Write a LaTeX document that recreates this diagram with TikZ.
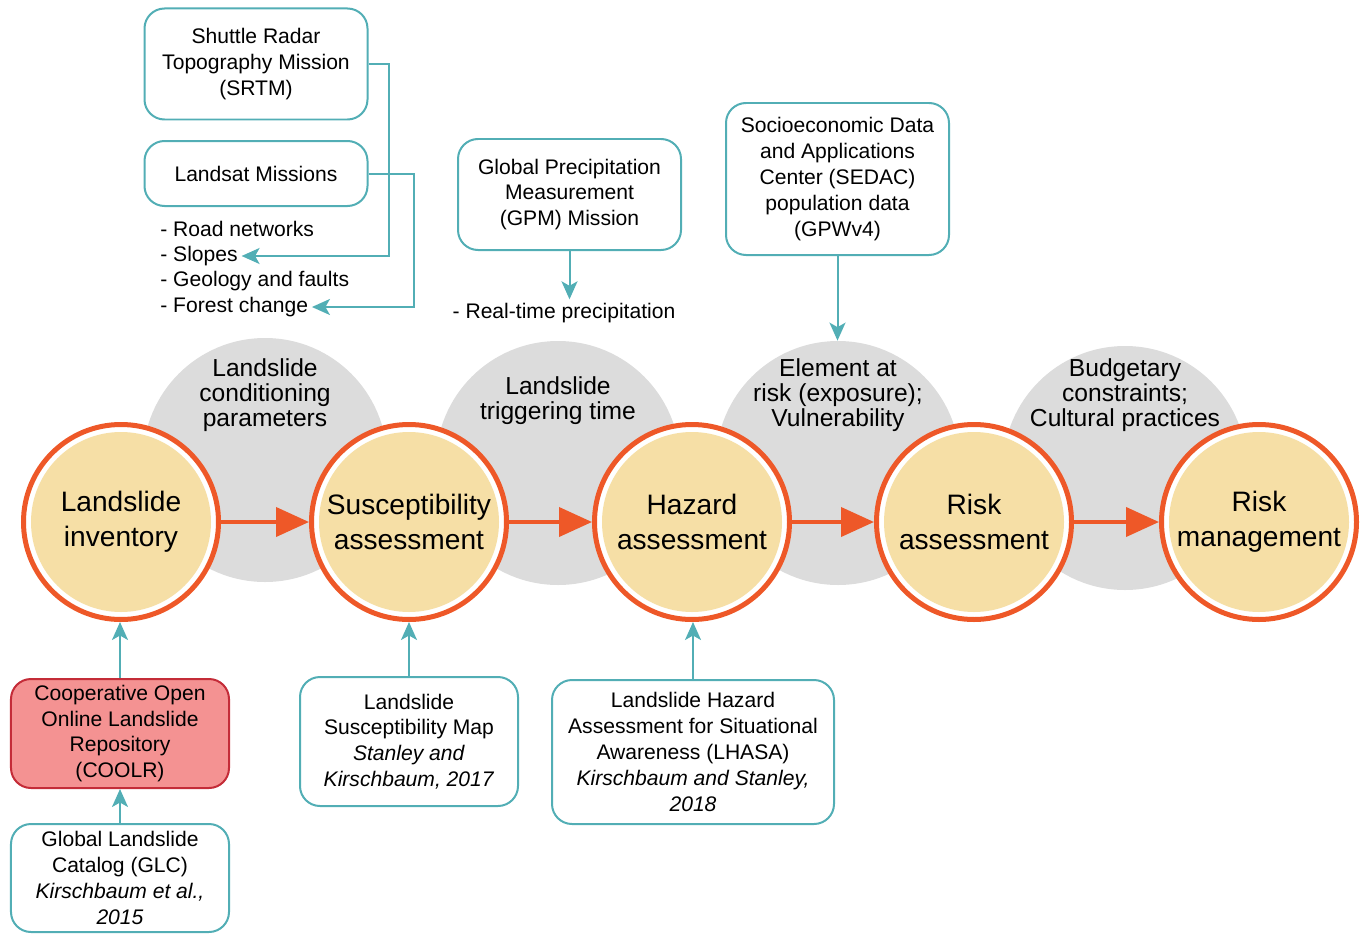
\documentclass[tikz,border=0pt]{standalone}
\usepackage{fontspec}
\setmainfont{Liberation Sans}
\usetikzlibrary{arrows.meta}
\definecolor{lsteal}{RGB}{82,174,181}
\definecolor{lsorange}{RGB}{238,88,40}
\definecolor{lsbeige}{RGB}{246,223,166}
\definecolor{lsgray}{RGB}{220,220,220}
\definecolor{lsred}{RGB}{244,146,146}
\definecolor{lsdarkred}{RGB}{196,44,56}
\begin{document}
\begin{tikzpicture}[
  box/.style={draw=lsteal, line width=0.04cm, rounded corners=0.4cm, align=center, minimum width=4.46cm, font=\fontsize{12}{14.7}\selectfont},
  item/.style={inner sep=2pt, anchor=west, font=\fontsize{12}{14.7}\selectfont},
  stage/.style={circle, minimum size=3.9cm, draw=lsorange, line width=0.1cm, fill=white, align=center, font=\fontsize{16}{19.8}\selectfont,
    path picture={\fill[lsbeige] (path picture bounding box.center) circle (1.8cm);}},
  factor/.style={circle, minimum size=4.88cm, fill=lsgray, inner sep=0pt},
  factortext/.style={align=center, font=\fontsize{14}{14.2}\selectfont},
  tarrow/.style={draw=lsteal, line width=0.04cm, -{Stealth[length=0.36cm,width=0.32cm,inset=0.09cm]}},
  oarrow/.style={draw=lsorange, line width=0.08cm, -{Triangle[length=0.66cm,width=0.58cm]}}
]
\useasboundingbox (0,0) rectangle (27.28,-18.68);

% grey factor discs
\node[factor] (g1) at (5.3,-9.2) {};
\node[factor] (g2) at (11.16,-9.26) {};
\node[factor] (g3) at (16.76,-9.26) {};
\node[factor] (g4) at (22.5,-9.36) {};
\node[factortext] (f1) at (5.3,-7.9) {Landslide\\conditioning\\parameters};
\node[factortext] (f2) at (11.16,-8.02) {Landslide\\triggering time};
\node[factortext] (f3) at (16.76,-7.9) {Element at\\risk (exposure);\\Vulnerability};
\node[factortext] (f4) at (22.5,-7.9) {Budgetary\\constraints;\\Cultural practices};

% stages
\node[stage] (s1) at (2.42,-10.44) {Landslide\\inventory};
\node[stage] (s2) at (8.18,-10.44) {Susceptibility\\assessment};
\node[stage] (s3) at (13.84,-10.44) {Hazard\\assessment};
\node[stage] (s4) at (19.48,-10.44) {Risk\\assessment};
\node[stage] (s5) at (25.18,-10.44) {Risk\\management};
\draw[oarrow] (s1.east) -- (s2.west);
\draw[oarrow] (s2.east) -- (s3.west);
\draw[oarrow] (s3.east) -- (s4.west);
\draw[oarrow] (s4.east) -- (s5.west);

% data sources on top
\node[box, minimum height=2.22cm] (srtm) at (5.12,-1.28) {Shuttle Radar\\Topography Mission\\(SRTM)};
\node[box, minimum height=1.3cm] (landsat) at (5.12,-3.47) {Landsat Missions};
\node[item] (road) at (3.13,-4.58) {- Road networks};
\node[item] (slopes) at (3.13,-5.12) {- Slopes};
\node[item] (geology) at (3.13,-5.62) {- Geology and faults};
\node[item] (forest) at (3.13,-6.14) {- Forest change};
\draw[tarrow] (srtm.east) -- ++(0.4,0) |- (slopes.east);
\draw[tarrow] (landsat.east) -- ++(0.9,0) |- (forest.east);

\node[box, minimum height=2.22cm] (gpm) at (11.39,-3.89) {Global Precipitation\\Measurement\\(GPM) Mission};
\node[item, anchor=center] (rtp) at (11.28,-6.26) {- Real-time precipitation};
\draw[tarrow] (gpm.south) -- (gpm.south |- rtp.north);

\node[box, minimum height=3.04cm] (sedac) at (16.75,-3.58) {Socioeconomic Data\\and Applications\\Center (SEDAC)\\population data\\(GPWv4)};
\draw[tarrow] (sedac.south) -- (sedac.south |- g3.north);

% products below
\node[box, draw=lsdarkred, fill=lsred, minimum width=4.36cm, minimum height=2.18cm] (coolr) at (2.4,-14.67) {Cooperative Open\\Online Landslide\\Repository\\(COOLR)};
\node[box, minimum width=4.36cm, minimum height=2.16cm] (glc) at (2.4,-17.56) {Global Landslide\\Catalog (GLC)\\\textit{Kirschbaum et al.,}\\\textit{2015}};
\node[box, minimum width=4.36cm, minimum height=2.58cm] (lsm) at (8.18,-14.83) {Landslide\\Susceptibility Map\\\textit{Stanley and}\\\textit{Kirschbaum, 2017}};
\node[box, minimum width=5.64cm, minimum height=2.88cm] (lhasa) at (13.86,-15.04) {Landslide Hazard\\Assessment for Situational\\Awareness (LHASA)\\\textit{Kirschbaum and Stanley,}\\\textit{2018}};
\draw[tarrow] (coolr.north) -- (coolr.north |- s1.south);
\draw[tarrow] (glc.north) -- (coolr.south);
\draw[tarrow] (lsm.north) -- (lsm.north |- s2.south);
\draw[tarrow] (lhasa.north) -- (lhasa.north |- s3.south);
\end{tikzpicture}
\end{document}
